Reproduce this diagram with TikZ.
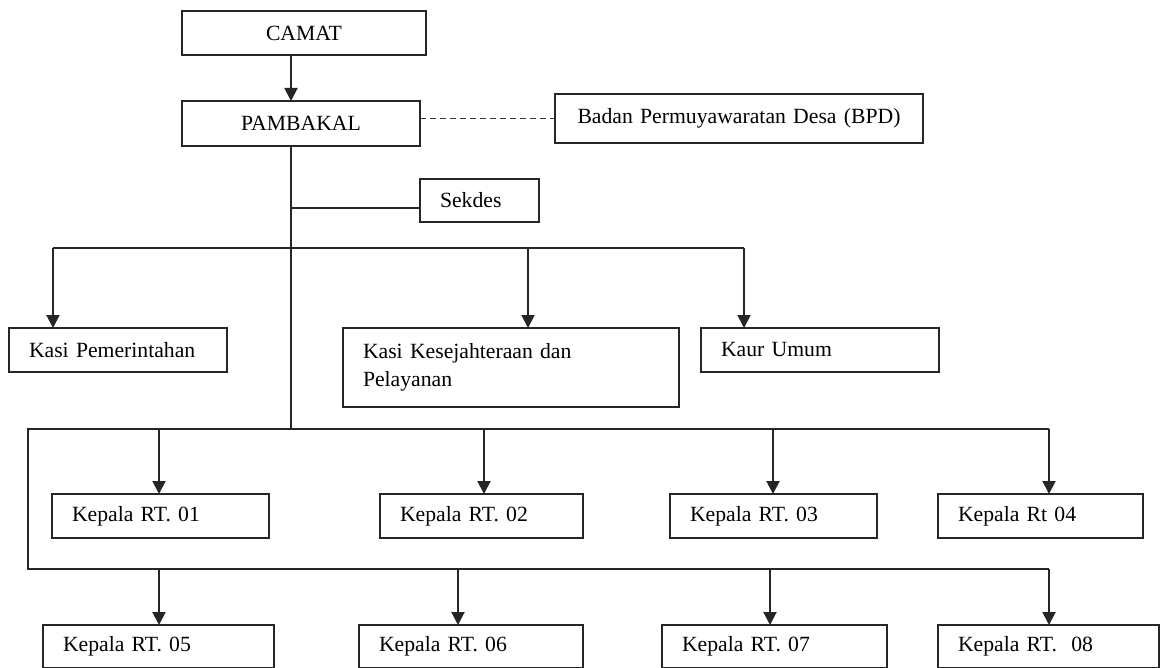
\documentclass[tikz,border=0pt]{standalone}
\usepackage{fontspec}
\setmainfont{Liberation Serif}
\usetikzlibrary{arrows.meta}
\begin{document}
\begin{tikzpicture}[x=1pt,y=-1pt,
  ln/.style={draw=black!85,line width=2pt},
  box/.style={ln,rectangle,anchor=north west,inner xsep=20pt,inner ysep=0pt,outer sep=0pt,
    font=\fontsize{21.7}{28}\selectfont},
  cbox/.style={box,align=center},
  lbox/.style={box,align=left},
  arr/.style={ln,-{Triangle[width=13pt,length=13pt]}},
  dsh/.style={draw=black!80,line width=1.7pt,dash pattern=on 6pt off 4pt}]
\useasboundingbox (0,0) rectangle (1161,668);
% boxes
\node[cbox,text width=204pt,minimum height=44pt] (cam) at (182,11) {CAMAT};
\node[cbox,text width=198pt,minimum height=45pt] (pam) at (182,101) {PAMBAKAL};
\node[cbox,text width=328pt,minimum height=49pt] (bpd) at (555,94) {Badan Permuyawaratan Desa (BPD)};
\node[lbox,text width=79pt,minimum height=43pt] (sek) at (420,179) {Sekdes};
\node[lbox,text width=178pt,minimum height=44pt] (kp) at (9,328) {Kasi Pemerintahan};
\node[lbox,text width=296pt,minimum height=79pt] (kk) at (343,328) {Kasi Kesejahteraan dan\\Pelayanan};
\node[lbox,text width=198pt,minimum height=44pt] (ku) at (701,328) {Kaur Umum};
\node[lbox,text width=177pt,minimum height=44pt] (r1) at (52,494) {Kepala RT. 01};
\node[lbox,text width=163pt,minimum height=44pt] (r2) at (380,494) {Kepala RT. 02};
\node[lbox,text width=167pt,minimum height=44pt] (r3) at (670,494) {Kepala RT. 03};
\node[lbox,text width=165pt,minimum height=44pt] (r4) at (938,494) {Kepala Rt 04};
\node[lbox,text width=191pt,minimum height=43pt] (r5) at (43,625) {Kepala RT. 05};
\node[lbox,text width=184pt,minimum height=43pt] (r6) at (359,625) {Kepala RT. 06};
\node[lbox,text width=185pt,minimum height=43pt] (r7) at (662,625) {Kepala RT. 07};
\node[lbox,text width=181pt,minimum height=43pt] (r8) at (938,625) {Kepala RT.\ \ 08};
% junction coordinates
\coordinate (tr) at (291,208);
\coordinate (b1) at (291,248);
\coordinate (b1l) at (53,248);
\coordinate (b1m) at (528,248);
\coordinate (b1r) at (744,248);
\coordinate (b2) at (291,429);
\coordinate (b2l) at (28,429);
\coordinate (b3l) at (28,569);
\coordinate (a1) at (159,429);
\coordinate (a2) at (484,429);
\coordinate (a3) at (773,429);
\coordinate (a4) at (1049,429);
\coordinate (c1) at (159,569);
\coordinate (c2) at (458,569);
\coordinate (c3) at (770,569);
\coordinate (c4) at (1049,569);
% connectors
\draw[arr] (cam.south -| tr) -- (pam.north -| tr);
\draw[dsh] (pam.east |- bpd.west) -- (bpd.west);
\draw[ln] (pam.south -| tr) -- (b2);
\draw[ln] (tr) -- (tr -| sek.west);
\draw[ln] (b1l) -- (b1r);
\draw[arr] (b1l) -- (b1l |- kp.north);
\draw[arr] (b1m) -- (b1m |- kk.north);
\draw[arr] (b1r) -- (b1r |- ku.north);
\draw[ln] (a4) -- (b2l) -- (b3l) -- (c4);
\draw[arr] (a1) -- (a1 |- r1.north);
\draw[arr] (a2) -- (a2 |- r2.north);
\draw[arr] (a3) -- (a3 |- r3.north);
\draw[arr] (a4) -- (a4 |- r4.north);
\draw[arr] (c1) -- (c1 |- r5.north);
\draw[arr] (c2) -- (c2 |- r6.north);
\draw[arr] (c3) -- (c3 |- r7.north);
\draw[arr] (c4) -- (c4 |- r8.north);
\end{tikzpicture}
\end{document}
